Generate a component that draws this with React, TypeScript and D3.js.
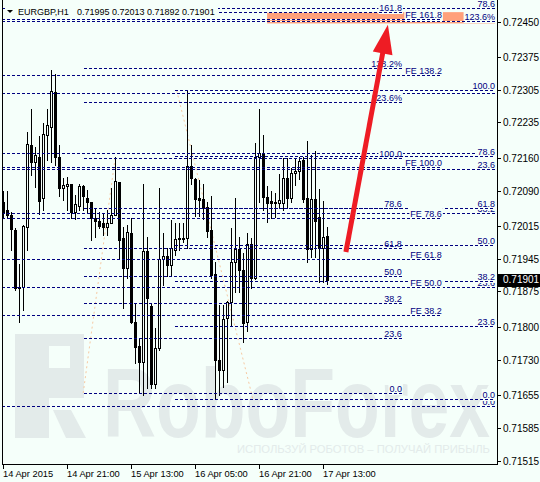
import React from "react";
import * as d3 from "d3";

// ---------- data (EURGBP H1) ----------
const opens = [
  0.72067, 0.7205, 0.7204, 0.72007, 0.71884, 0.71885, 0.72014, 0.72188, 0.72151, 0.72163,
  0.72075, 0.72209, 0.72227, 0.723, 0.72163, 0.72096, 0.72101, 0.72105, 0.72046, 0.72059,
  0.72101, 0.72076, 0.72066, 0.72033, 0.72027, 0.72022, 0.72013, 0.72021, 0.72038, 0.7211,
  0.71991, 0.71925, 0.72, 0.71812, 0.7176, 0.71726, 0.71962, 0.71846, 0.7168, 0.71755,
  0.71945, 0.71952, 0.71932, 0.71964, 0.71987, 0.71989, 0.71989, 0.72143, 0.72116, 0.72075,
  0.72072, 0.72055, 0.72007, 0.71913, 0.7173, 0.71709, 0.71819, 0.71853, 0.71939, 0.71966,
  0.71922, 0.71812, 0.71977, 0.71905, 0.72163, 0.7217, 0.72078, 0.72069, 0.72067, 0.72064,
  0.72064, 0.72117, 0.72076, 0.72128, 0.72133, 0.72156, 0.72075, 0.71966, 0.72073, 0.72034,
  0.71968, 0.71995,
];
const highs = [
  0.7209, 0.7209, 0.72046, 0.72011, 0.71934, 0.72018, 0.72216, 0.72264, 0.72184, 0.72207,
  0.72234, 0.72264, 0.72348, 0.72339, 0.72188, 0.72117, 0.7212, 0.72106, 0.72082, 0.72106,
  0.72103, 0.72092, 0.72067, 0.72053, 0.72046, 0.72042, 0.7205, 0.72096, 0.72163, 0.7211,
  0.72014, 0.72018, 0.72032, 0.71851, 0.71776, 0.72106, 0.71993, 0.71851, 0.71798, 0.72096,
  0.72, 0.71968, 0.72028, 0.72021, 0.72021, 0.72021, 0.72305, 0.72188, 0.72117, 0.72113,
  0.72106, 0.72067, 0.72079, 0.71939, 0.71847, 0.71847, 0.71856, 0.72011, 0.72076, 0.71993,
  0.71957, 0.72, 0.71991, 0.72192, 0.72265, 0.72209, 0.72101, 0.72089, 0.72085, 0.72126,
  0.7216, 0.7216, 0.7214, 0.7216, 0.72163, 0.72163, 0.72197, 0.72167, 0.72176, 0.72094,
  0.72069, 0.72013,
];
const lows = [
  0.72032, 0.72032, 0.71964, 0.71879, 0.71812, 0.71837, 0.71964, 0.72124, 0.72099, 0.72042,
  0.7205, 0.72156, 0.72152, 0.72145, 0.72079, 0.72071, 0.7205, 0.72033, 0.7203, 0.7205,
  0.7205, 0.72046, 0.71986, 0.71993, 0.72011, 0.71996, 0.71996, 0.72021, 0.72038, 0.71947,
  0.7184, 0.71904, 0.71808, 0.71723, 0.71662, 0.71655, 0.7167, 0.7167, 0.7167, 0.71751,
  0.7189, 0.71908, 0.71911, 0.71954, 0.71964, 0.71982, 0.71969, 0.72106, 0.72037, 0.72037,
  0.7203, 0.71993, 0.71905, 0.71648, 0.71655, 0.71673, 0.71684, 0.71805, 0.71876, 0.71876,
  0.71769, 0.71792, 0.71883, 0.71903, 0.72067, 0.7205, 0.72025, 0.72032, 0.72035, 0.72053,
  0.7205, 0.72057, 0.72067, 0.72103, 0.72116, 0.72067, 0.71939, 0.7195, 0.7195, 0.71897,
  0.71897, 0.71892,
];
const closes = [
  0.72046, 0.7204, 0.72009, 0.71883, 0.71886, 0.72016, 0.7219, 0.72151, 0.72166, 0.72069,
  0.72211, 0.72231, 0.72303, 0.72163, 0.72096, 0.72103, 0.72106, 0.72046, 0.72062, 0.72101,
  0.7208, 0.72066, 0.72032, 0.72026, 0.72016, 0.72013, 0.72021, 0.72038, 0.72111, 0.71986,
  0.71925, 0.72002, 0.7181, 0.71758, 0.71726, 0.71962, 0.71863, 0.7168, 0.71756, 0.71945,
  0.71952, 0.71932, 0.71968, 0.71987, 0.71989, 0.71991, 0.72143, 0.72117, 0.72072, 0.72071,
  0.72054, 0.72005, 0.71911, 0.7173, 0.71709, 0.71817, 0.71853, 0.71939, 0.71966, 0.71922,
  0.71808, 0.71977, 0.71905, 0.72163, 0.7217, 0.72078, 0.72064, 0.72064, 0.72064, 0.72071,
  0.72117, 0.72076, 0.72128, 0.72133, 0.72154, 0.72073, 0.71966, 0.72073, 0.72027, 0.71968,
  0.71993, 0.71901,
];

const timeTickBars = [0, 16, 32, 48, 64, 80];
const timeTickLabels = ["14 Apr 2015", "14 Apr 21:00", "15 Apr 13:00", "16 Apr 05:00", "16 Apr 21:00", "17 Apr 13:00"];
const priceTicks = [0.7245, 0.72375, 0.72305, 0.72235, 0.7216, 0.7209, 0.72015, 0.71945, 0.71875, 0.718, 0.7173, 0.71655, 0.71585, 0.71515];

// Fibonacci tools: levels, labels, [price at 0%, price at 100%], [start bar, end bar]
const retrLevels = [0, 23.6, 38.2, 50, 61.8, 78.6, 100];
const retrLabels = ["0.0", "23.6", "38.2", "50.0", "61.8", "78.6", "100.0"];

const fibALevels = [0, 23.6, 38.2, 50, 61.8, 78.6, 100, 123.6, 138.2, 161.8];
const fibALabels = ["0.0", "23.6", "38.2", "50.0", "61.8", "78.6", "100.0", "123.6%", "138.2%", "161.8"];
const fibAPrices = [0.71658, 0.7216];
const fibABars = [20, 99.6];
const fibATrendBars = [27.9, 19.9];

const fibBPrices = [0.71645, 0.72304];
const fibBBars = [42.9, 122.9];
const fibBTrendBars = [43.3, 62.4];

const fibCPrices = [0.71631, 0.72709];
const fibCBars = [-2, 122.9];

const fibDLevels = [23.6, 123.6];
const fibDLabels = ["23.6", "123.6%"];
const fibDPrices = [0.72062, 0.72377];
const fibDBars = [-2, 122.9];

const feLevels = [38.2, 50, 61.8, 78.6, 100, 138.2, 161.8];
const feLabels = ["FE 38.2", "FE 50.0", "FE 61.8", "FE 78.6", "FE 100.0", "FE 138.2", "FE 161.8"];
const fePrices = [0.71629, 0.7214];
const feBars = [-2, 109.6];

const zoneBars = [65.9, 122.9];
const zonePrices = [0.72447, 0.72471];

const arrowBars = [85.6, 96.1];
const arrowPrices = [0.7196, 0.72444];

// ---------- styling ----------
const BG = "#F5FFFA";
const NAVY = "#000080";
const WM = "#E3EBEA";
const FONT = "'Liberation Sans', Arial, sans-serif";

function textWidth(s: string, size: number) {
  let w = 0;
  for (const ch of s) {
    if (/[0-9]/.test(ch)) w += 0.556;
    else if (ch === "." || ch === " ") w += 0.278;
    else if (ch === "%") w += 0.889;
    else if (ch === "F") w += 0.611;
    else if (ch === "E") w += 0.667;
    else w += 0.6;
  }
  return w * size;
}

export default function App() {
  const xs = d3.scaleLinear().domain([0, 81]).range([3.5, 327.5]);
  const ys = d3.scaleLinear().domain([0.71515, 0.7245]).range([461, 22]);
  const crisp = (v: number) => Math.round(v - 0.5) + 0.5;
  const PL = 2, PR = 497, PB = 464;

  const fibs = [
    { id: "C", levels: retrLevels, labels: retrLabels, prices: fibCPrices, bars: fibCBars },
    { id: "D", levels: fibDLevels, labels: fibDLabels, prices: fibDPrices, bars: fibDBars },
    { id: "A", levels: fibALevels, labels: fibALabels, prices: fibAPrices, bars: fibABars },
    { id: "B", levels: retrLevels, labels: retrLabels, prices: fibBPrices, bars: fibBBars },
    { id: "FE", levels: feLevels, labels: feLabels, prices: fePrices, bars: feBars },
  ].map((f) => ({
    ...f,
    x0: Math.max(PL, xs(f.bars[0])),
    x1: xs(f.bars[1]),
    rows: f.levels.map((lv, j) => ({
      y: crisp(ys(f.prices[0] + ((f.prices[1] - f.prices[0]) * lv) / 100)),
      label: f.labels[j],
    })),
  }));

  const zx0 = xs(zoneBars[0]), zx1 = xs(zoneBars[1]);
  const zy0 = ys(zonePrices[1]), zy1 = ys(zonePrices[0]);

  // arrow geometry
  const tx = xs(arrowBars[0]), ty = ys(arrowPrices[0]);
  const hx = xs(arrowBars[1]), hy = ys(arrowPrices[1]);
  const len = Math.hypot(hx - tx, hy - ty);
  const ux = (hx - tx) / len, uy = (hy - ty) / len;
  const nx = -uy, ny = ux;
  const headLen = 29, headHalf = 10;
  const bx = hx - ux * headLen, by = hy - uy * headLen;

  const n = opens.length;
  const last = n - 1;
  const lastY = ys(closes[last]);

  return (
    <svg
      width={540}
      height={482}
      style={{ position: "fixed", left: 0, top: 0, display: "block" }}
      fontFamily={FONT}
    >
      <defs>
        <clipPath id="plot">
          <rect x={PL} y={0} width={PR - PL} height={PB} />
        </clipPath>
        <clipPath id="zone">
          <rect x={zx0} y={zy0} width={zx1 - zx0} height={zy1 - zy0} />
        </clipPath>
      </defs>
      <rect x={0} y={0} width={540} height={482} fill={BG} />

      <g clipPath="url(#plot)">
        {/* watermark */}
        <g fill={WM}>
          <path d="M15,334 H84 V398 H49 V438 H15 Z" />
          <path d="M49,346 H70 V368 H49 Z" fill={BG} />
          <path d="M53,410 H71 L86,438 H66 Z" />
          <text x={103} y={437} fontSize={98} fontWeight="bold" textLength={387} lengthAdjust="spacingAndGlyphs">
            RoboForex
          </text>
          <text x={237} y={453} fontSize={11} textLength={253} lengthAdjust="spacingAndGlyphs">
            ИСПОЛЬЗУЙ РОБОТОВ – ПОЛУЧАЙ ПРИБЫЛЬ
          </text>
        </g>

        {/* salmon zone */}
        <rect x={zx0} y={zy0} width={zx1 - zx0} height={zy1 - zy0} fill="#FFA07A" />
        <g clipPath="url(#zone)" shapeRendering="crispEdges">
          {fibs.map((f) =>
            f.rows.map((r, j) => (
              <line key={f.id + "u" + j} x1={f.x0} x2={f.x1} y1={r.y} y2={r.y} stroke={BG} strokeWidth={1} />
            ))
          )}
        </g>

        {/* fib trend lines */}
        <g stroke="#F7C9A2" strokeWidth={1} strokeDasharray="2,3" fill="none">
          <line x1={xs(fibATrendBars[0])} y1={ys(fibAPrices[1])} x2={xs(fibATrendBars[1])} y2={ys(fibAPrices[0])} />
          <line x1={xs(fibBTrendBars[0])} y1={ys(fibBPrices[1])} x2={xs(fibBTrendBars[1])} y2={ys(fibBPrices[0])} />
        </g>

        {/* candles */}
        <g shapeRendering="crispEdges">
          {opens.map((o, i) => {
            const c = closes[i];
            const cx = xs(i);
            const yH = Math.round(ys(highs[i]));
            const yL = Math.round(ys(lows[i]));
            const top = Math.round(ys(Math.max(o, c)));
            const bot = Math.round(ys(Math.min(o, c)));
            const bull = c >= o;
            return (
              <g key={"c" + i}>
                <line x1={cx} x2={cx} y1={yH} y2={yL + 1} stroke="#000" strokeWidth={1} />
                {bull ? (
                  <rect x={cx - 1} y={top + 0.5} width={2} height={Math.max(1, bot - top)} fill={BG} stroke="#000" strokeWidth={1} />
                ) : (
                  <rect x={cx - 1.5} y={top} width={3} height={Math.max(1, bot - top + 1)} fill="#000" />
                )}
              </g>
            );
          })}
        </g>

        {/* fibonacci tools: labels then lines */}
        {fibs.map((f) => (
          <g key={f.id}>
            {f.rows.map((r, j) => {
              const w = textWidth(r.label, 9);
              return (
                <g key={"l" + j}>
                  <rect x={f.x1 - w - 1} y={r.y - 10.5} width={w + 2} height={12} fill={BG} />
                  <text x={f.x1} y={r.y - 2} fontSize={9} fill={NAVY} textAnchor="end">
                    {r.label}
                  </text>
                </g>
              );
            })}
            {f.rows.map((r, j) => (
              <line
                key={"d" + j}
                x1={f.x0}
                x2={f.x1}
                y1={r.y}
                y2={r.y}
                stroke={NAVY}
                strokeWidth={1}
                strokeDasharray="3,2"
                shapeRendering="crispEdges"
              />
            ))}
          </g>
        ))}

        {/* red arrow */}
        <line x1={tx} y1={ty} x2={bx + ux * 2} y2={by + uy * 2} stroke="#EE1C24" strokeWidth={5} />
        <polygon
          points={`${hx},${hy} ${bx + nx * headHalf},${by + ny * headHalf} ${bx - nx * headHalf},${by - ny * headHalf}`}
          fill="#EE1C24"
        />

        {/* header */}
        <rect x={6} y={3} width={212} height={12} fill={BG} />
        <path d="M7,10 H13 L10,13 Z" fill="#000" />
        <text x={18} y={14.5} fontSize={9} fill="#000">
          EURGBP,H1
        </text>
        <text x={77} y={14.5} fontSize={9} fill="#000">
          {[opens[last], highs[last], lows[last], closes[last]].map((v) => v.toFixed(5)).join(" ")}
        </text>
      </g>

      {/* frame */}
      <g stroke="#000" strokeWidth={1} shapeRendering="crispEdges" fill="none">
        <line x1={2.5} x2={2.5} y1={0} y2={PB + 0.5} />
        <line x1={2} x2={PR + 1} y1={PB + 0.5} y2={PB + 0.5} />
        <line x1={PR + 0.5} x2={PR + 0.5} y1={0} y2={PB + 1} />
      </g>

      {/* price axis */}
      <g shapeRendering="crispEdges">
        {priceTicks.map((v) => {
          const yy = crisp(ys(v));
          return (
            <g key={"p" + v}>
              <line x1={PR + 0.5} x2={PR + 4} y1={yy} y2={yy} stroke="#000" />
              <text x={503} y={ys(v)} dy="0.35em" fontSize={10} fill="#000">
                {v.toFixed(5)}
              </text>
            </g>
          );
        })}
        <rect x={498} y={Math.round(lastY) - 6.5} width={42} height={13} fill="#000" />
        <line x1={PR + 0.5} x2={PR + 4} y1={crisp(lastY)} y2={crisp(lastY)} stroke="#000" />
        <text x={503} y={lastY} dy="0.35em" fontSize={10} fill="#fff">
          {closes[last].toFixed(5)}
        </text>
      </g>

      {/* time axis */}
      <g shapeRendering="crispEdges">
        {timeTickBars.map((b, i) => (
          <g key={"t" + b}>
            <line x1={xs(b)} x2={xs(b)} y1={PB + 0.5} y2={PB + 5} stroke="#000" />
            <text x={xs(b) - 0.5} y={477} fontSize={9.3} fill="#000">
              {timeTickLabels[i]}
            </text>
          </g>
        ))}
      </g>
    </svg>
  );
}
